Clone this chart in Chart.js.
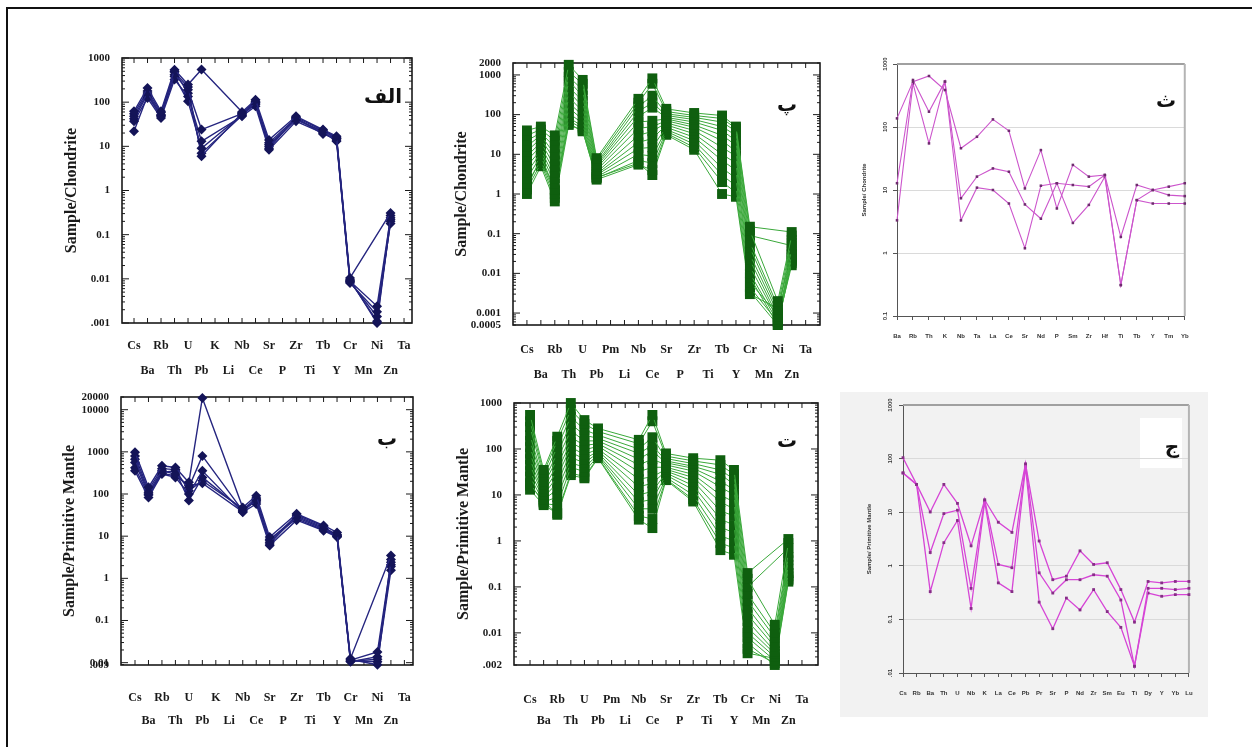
<!DOCTYPE html>
<html><head><meta charset="utf-8">
<script src="https://cdn.jsdelivr.net/npm/chart.js@4.4.1/dist/chart.umd.min.js"></script>
<style>
html,body{margin:0;padding:0;background:#fff;width:1252px;height:747px;overflow:hidden;position:relative;}
.outer{position:absolute;left:6px;top:7px;width:1400px;height:900px;border-left:2px solid #111;border-top:2px solid #111;}
.panelbg{position:absolute;background:#f2f2f2;}
canvas{position:absolute;}
.lbl{position:absolute;font-family:'DejaVu Sans',sans-serif;font-weight:bold;font-size:20px;color:#111;transform:translate(-50%,-50%);direction:rtl;white-space:nowrap;line-height:1;}
.wbox{position:absolute;background:#fff;}
</style></head><body>
<div class="outer"></div>
<div class="panelbg" style="left:840px;top:392px;width:368px;height:325px;"></div>
<div class="wbox" style="left:1140px;top:418px;width:42px;height:50px;"></div>
<script>
// ---------- categories ----------
const elemChondrite = ['Cs','Ba','Rb','Th','U','Pb','K','Li','Nb','Ce','Sr','P','Zr','Ti','Tb','Y','Cr','Mn','Ni','Zn','Ta'];
const elemPm = ['Cs','Ba','Rb','Th','U','Pb','Pm','Li','Nb','Ce','Sr','P','Zr','Ti','Tb','Y','Cr','Mn','Ni','Zn','Ta'];
const elemThompson = ['Ba','Rb','Th','K','Nb','Ta','La','Ce','Sr','Nd','P','Sm','Zr','Hf','Ti','Tb','Y','Tm','Yb'];
const elemSunMcD = ['Cs','Rb','Ba','Th','U','Nb','K','La','Ce','Pb','Pr','Sr','P','Nd','Zr','Sm','Eu','Ti','Dy','Y','Yb','Lu'];

// ---------- tick values / labels ----------
const alefTicks = [0.001,0.01,0.1,1,10,100,1000];
const alefTickLabels = ['.001','0.01','0.1','1','10','100','1000'];
const beTicks = [0.0088,0.01,0.1,1,10,100,1000,10000,20000];
const beTickLabels = ['.009','0.01','0.1','1','10','100','1000','10000','20000'];
const peTicks = [0.0005,0.001,0.01,0.1,1,10,100,1000,2000];
const peTickLabels = ['0.0005','0.001','0.01','0.1','1','10','100','1000','2000'];
const teTicks = [0.002,0.01,0.1,1,10,100,1000];
const teTickLabels = ['.002','0.01','0.1','1','10','100','1000'];
const seTicks = [0.1,1,10,100,1000];
const seTickLabels = ['0.1','1','10','100','1000'];
const jimTicks = [0.01,0.1,1,10,100,1000];
const jimTickLabels = ['.01','0.1','1','10','100','1000'];

// ---------- panel الف (Sample/Chondrite, blue) ----------
const alef1 = [62,210,62,545,250,550,null,null,60,114,14,null,48,null,24,17,0.0105,null,null,0.31,null];
const alef2 = [48,162,52,420,192,24,null,null,55,96,11,null,40,null,22,15,0.0088,null,0.0024,0.24,null];
const alef3 = [37,124,44,325,135,13,null,null,48,81,8.4,null,37,null,20,14,0.0081,null,0.0018,0.18,null];
const alef4 = [22,140,48,380,105,9,null,null,52,90,10,null,42,null,21,13,0.0085,null,0.0014,0.2,null];
const alef5 = [55,180,58,480,220,6,null,null,57,105,9,null,45,null,23,16,0.009,null,0.0011,0.27,null];
const alef6 = [42,150,50,500,160,7,null,null,50,100,12,null,44,null,19,15,0.0095,null,0.001,0.22,null];

// ---------- panel ب (Sample/Primitive Mantle, blue) ----------
const be1 = [985,144,467,427,189,19000,null,null,48,91,9.5,null,34,null,18,12.3,0.0126,null,null,3.5,null];
const be2 = [670,110,355,297,144,800,null,null,40,70,7.2,null,28,null,15,10.4,0.0115,null,0.018,2.4,null];
const be3 = [355,83,297,248,100,355,null,null,37,58,6.0,null,24,null,13.5,9.5,0.0105,null,0.0138,1.9,null];
const be4 = [420,95,330,350,70,248,null,null,42,80,8,null,30,null,16,11,0.011,null,0.0105,1.55,null];
const be5 = [800,125,400,380,120,206,null,null,45,65,8.5,null,26,null,14,10,0.012,null,0.0089,2.8,null];
const be6 = [560,100,310,270,160,180,null,null,38,75,6.5,null,32,null,17,9.8,0.0108,null,0.012,2.1,null];

// ---------- panel پ (Sample/Chondrite, green) ----------
const pe1 = [40,50,30,1800,750,8,null,null,250,820,140,null,110,null,95,50,0.15,null,null,0.11,null];
const pe2 = [30,42,22,1200,600,7,null,null,200,600,120,null,95,null,80,45,0.12,null,0.002,0.09,null];
const pe3 = [22,35,15,900,420,6,null,null,160,300,105,null,85,null,65,38,0.09,null,null,0.05,null];
const pe4 = [16,30,10,700,300,5.5,null,null,120,200,95,null,75,null,50,30,0.06,null,0.0015,0.07,null];
const pe5 = [12,25,7,500,220,5,null,null,90,150,85,null,65,null,40,22,0.045,null,0.0012,0.04,null];
const pe6 = [9,20,5,380,160,4.5,null,null,65,70,78,null,55,null,30,17,0.03,null,0.001,0.06,null];
const pe7 = [7,16,3.5,280,120,4,null,null,45,50,70,null,48,null,22,12,0.022,null,0.0008,0.03,null];
const pe8 = [5,13,2.5,200,95,3.5,null,null,30,38,62,null,40,null,15,9,0.015,null,0.0007,0.025,null];
const pe9 = [3.5,11,1.8,150,75,3.2,null,null,20,25,55,null,33,null,10,6,0.01,null,0.0006,0.035,null];
const pe10 = [2.5,9,1.3,110,60,3,null,null,14,15,48,null,27,null,7,4,0.008,null,0.0005,0.02,null];
const pe11 = [1.8,7,1,85,50,2.7,null,null,10,9,42,null,22,null,4.5,2.5,0.006,null,0.0009,0.018,null];
const pe12 = [1.3,6,0.8,70,45,2.5,null,null,7,6,38,null,18,null,3,1.6,0.0045,null,0.0006,0.016,null];
const pe13 = [1,5,0.65,55,40,2.3,null,null,5.5,4,34,null,15,null,2,1.1,0.0035,null,0.0005,0.022,null];
const pe14 = [1.5,8,1.2,60,38,2.6,null,null,6,3,31,null,13,null,1,0.85,0.003,null,0.0013,0.03,null];

// ---------- panel ت (Sample/Primitive Mantle, green) ----------
const te1 = [550,35,185,1000,425,280,null,null,158,550,80,null,63,null,57,35,0.2,null,null,1.1,null];
const te2 = [400,30,150,700,350,240,null,null,130,400,70,null,55,null,45,28,0.15,null,0.015,0.9,null];
const te3 = [300,25,110,500,260,200,null,null,100,180,62,null,48,null,35,22,0.1,null,null,0.7,null];
const te4 = [200,20,80,350,200,170,null,null,80,120,55,null,42,null,28,17,0.07,null,0.01,0.55,null];
const te5 = [150,17,60,250,150,150,null,null,60,90,50,null,38,null,20,13,0.05,null,0.008,0.45,null];
const te6 = [110,14,45,180,120,130,null,null,45,60,45,null,33,null,15,10,0.035,null,0.006,0.38,null];
const te7 = [80,12,33,140,95,115,null,null,32,40,40,null,28,null,10,7,0.025,null,0.005,0.3,null];
const te8 = [60,10,25,110,75,100,null,null,22,25,36,null,24,null,7,5,0.018,null,0.004,0.25,null];
const te9 = [45,9,18,85,60,90,null,null,15,18,33,null,20,null,4.5,3.5,0.013,null,0.0035,0.2,null];
const te10 = [33,8,13,65,50,82,null,null,10,12,30,null,16,null,3,2.2,0.01,null,0.003,0.17,null];
const te11 = [25,7,9,50,40,75,null,null,7,8,27,null,13,null,2,1.5,0.008,null,0.0025,0.15,null];
const te12 = [18,6.5,6,40,32,70,null,null,5,5,24,null,10,null,1.3,1,0.006,null,0.002,0.13,null];
const te13 = [13,6,4,30,25,65,null,null,3.5,3,22,null,8,null,0.9,0.7,0.0045,null,0.0022,0.14,null];
const te14 = [16,7.5,3.7,27,23,63,null,null,2.9,1.9,21,null,7.2,null,0.63,0.5,0.0036,null,0.0028,0.2,null];

// ---------- panel ث (Thompson chondrite, pink) ----------
const se1 = [137,525,645,386,46,70,132,87,10.6,43,5.1,25,16.3,17.3,1.8,12,10,11.3,12.8];
const se2 = [12.8,557,175,525,7.4,16.3,22,19.5,5.9,3.5,12.8,12,11.3,17.3,0.31,6.9,10,8.3,8.0];
const se3 = [3.3,493,55,525,3.3,10.9,10,6.1,1.19,11.7,12.8,3.0,5.8,16.3,0.31,6.9,6.1,6.1,6.1];

// ---------- panel ج (primitive mantle, pink) ----------
const jim1 = [104,33,10.1,33,14.6,2.36,16.9,6.5,4.2,80,2.9,0.55,0.64,1.9,1.06,1.14,0.36,0.089,0.51,0.48,0.51,0.51];
const jim2 = [54,33,1.77,9.4,10.9,0.38,16.9,1.06,0.92,78,0.74,0.31,0.55,0.55,0.68,0.64,0.23,0.0134,0.38,0.38,0.36,0.38];
const jim3 = [54,33,0.33,2.7,7.0,0.16,15.7,0.48,0.33,69,0.21,0.067,0.25,0.15,0.36,0.14,0.071,0.0134,0.31,0.27,0.29,0.29];

// ---------- plugins ----------
const framePlugin = {
  id: 'frame',
  beforeDatasetsDraw(chart, args, o) {
    if (!o || !o.on) return;
    const ctx = chart.ctx, a = chart.chartArea, xs = chart.scales.x, ys = chart.scales.y;
    ctx.save();
    ctx.strokeStyle = o.color; ctx.lineWidth = o.width;
    ctx.strokeRect(a.left, a.top, a.right - a.left, a.bottom - a.top);
    ctx.lineWidth = 1;
    ctx.beginPath();
    xs.ticks.forEach(t => {
      const px = xs.getPixelForValue(t.value);
      ctx.moveTo(px, a.top); ctx.lineTo(px, a.top + 5);
      ctx.moveTo(px, a.bottom); ctx.lineTo(px, a.bottom - 5);
    });
    const lo = Math.floor(Math.log10(ys.min)), hi = Math.ceil(Math.log10(ys.max));
    for (let e = lo; e <= hi; e++) {
      for (let m = 1; m <= 9; m++) {
        const v = m * Math.pow(10, e);
        if (v < ys.min * 0.999 || v > ys.max * 1.001) continue;
        const py = ys.getPixelForValue(v), L = (m === 1) ? 7 : 3;
        ctx.moveTo(a.left, py); ctx.lineTo(a.left + L, py);
        ctx.moveTo(a.right, py); ctx.lineTo(a.right - L, py);
      }
    }
    ctx.stroke();
    ctx.restore();
  }
};
const boxPlugin = {
  id: 'box',
  beforeDatasetsDraw(chart, args, o) {
    if (!o || !o.on) return;
    const ctx = chart.ctx, a = chart.chartArea;
    ctx.save();
    ctx.strokeStyle = o.topColor; ctx.lineWidth = o.topWidth;
    ctx.beginPath(); ctx.moveTo(a.left, a.top); ctx.lineTo(a.right, a.top); ctx.stroke();
    ctx.strokeStyle = o.rightColor; ctx.lineWidth = o.rightWidth;
    ctx.beginPath(); ctx.moveTo(a.right, a.top); ctx.lineTo(a.right, a.bottom); ctx.stroke();
    ctx.restore();
  }
};
const rotYPlugin = {
  id: 'rotY',
  afterDraw(chart, args, o) {
    if (!o || !o.on) return;
    const ctx = chart.ctx, ys = chart.scales.y, a = chart.chartArea;
    ctx.save();
    ctx.font = o.font; ctx.fillStyle = o.color;
    ctx.textAlign = 'center'; ctx.textBaseline = 'middle';
    ys.ticks.forEach((t, i) => {
      const py = ys.getPixelForValue(t.value);
      ctx.save();
      ctx.translate(a.left - o.offset, py);
      ctx.rotate(-Math.PI / 2);
      ctx.fillText(o.labels[i], 0, 0);
      ctx.restore();
    });
    ctx.restore();
  }
};

Chart.defaults.font.family = "'Liberation Serif', 'DejaVu Serif', serif";
Chart.defaults.color = '#111';

function makeCanvas(g) {
  const cv = document.createElement('canvas');
  cv.width = g.W; cv.height = g.H;
  cv.style.left = g.CL + 'px'; cv.style.top = g.CT + 'px';
  cv.style.width = g.W + 'px'; cv.style.height = g.H + 'px';
  document.body.appendChild(cv);
  return cv;
}

function sets(series, s) {
  return series.map(arr => ({
    data: arr.map((v, i) => ({x: i, y: v})),
    borderColor: s.line, borderWidth: s.lw, backgroundColor: s.pt,
    pointBackgroundColor: s.pt, pointBorderColor: s.pt, pointBorderWidth: 0,
    pointStyle: s.style, pointRadius: s.r, spanGaps: true, tension: 0, clip: false, fill: false
  }));
}

// Classic boxed spidergram (الف, ب, پ, ت)
function boxedChart(g, names, series, style, ticks, tickLabels, title) {
  const cv = makeCanvas(g);
  new Chart(cv, {
    type: 'line',
    data: { datasets: sets(series, style) },
    plugins: [framePlugin],
    options: {
      responsive: false, animation: false, events: [],
      layout: { padding: { left: g.pl, top: g.pt, right: g.pr, bottom: 0 } },
      plugins: { legend: { display: false }, tooltip: { enabled: false },
        frame: { on: true, color: '#1a1a1a', width: 1.6 } },
      scales: {
        x: {
          type: 'linear', min: g.xmin, max: g.xmax,
          afterBuildTicks: s => { s.ticks = names.map((n, i) => ({ value: i })); },
          afterFit: s => { s.height = g.xh; },
          grid: { display: false }, border: { display: false },
          ticks: {
            autoSkip: false, maxRotation: 0, minRotation: 0, padding: g.tl, color: '#1a1a1a',
            font: { size: 12, weight: 'bold', lineHeight: g.lh + 'px' },
            callback: v => { const i = Math.round(v); const n = names[i]; return i % 2 === 0 ? [n, ''] : ['', n]; }
          }
        },
        y: {
          type: 'logarithmic', min: ticks[0], max: ticks[ticks.length - 1],
          afterBuildTicks: s => { s.ticks = ticks.map(v => ({ value: v })); },
          afterFit: s => { s.width = g.yw; },
          grid: { display: false }, border: { display: false },
          ticks: { autoSkip: false, padding: 4, color: '#1a1a1a', font: { size: 11, weight: 'bold' },
            callback: v => tickLabels[ticks.indexOf(v)] },
          title: { display: true, text: title, color: '#1a1a1a', padding: 0,
            font: { size: 16, weight: 'bold', lineHeight: 1.2 } }
        }
      }
    }
  });
}

// Excel-like spidergram (ث, ج)
function excelChart(g, names, series, style, ticks, tickLabels, title) {
  const cv = makeCanvas(g);
  new Chart(cv, {
    type: 'line',
    data: { datasets: sets(series, style) },
    plugins: [boxPlugin, rotYPlugin],
    options: {
      responsive: false, animation: false, events: [],
      layout: { padding: { left: g.pl, top: g.pt, right: g.pr, bottom: 0 } },
      plugins: { legend: { display: false }, tooltip: { enabled: false },
        box: { on: true, topColor: '#a0a0a0', topWidth: 2.2, rightColor: '#b4b4b4', rightWidth: 2 },
        rotY: { on: true, labels: tickLabels, offset: g.yoff, color: '#333',
          font: "bold 6px 'Liberation Sans', Arial, sans-serif" } },
      scales: {
        x: {
          type: 'linear', min: 0, max: names.length - 1,
          afterBuildTicks: s => { s.ticks = names.map((n, i) => ({ value: i })); },
          afterFit: s => { s.height = g.xh; },
          grid: { display: true, drawOnChartArea: false, drawTicks: true, tickLength: 4, tickColor: '#555' },
          border: { display: true, color: '#555', width: 1 },
          ticks: { autoSkip: false, maxRotation: 0, minRotation: 0, padding: g.tl, color: '#333',
            font: { family: "'Liberation Sans', Arial, sans-serif", size: 6, weight: 'bold', lineHeight: 1.2 },
            callback: v => names[Math.round(v)] }
        },
        y: {
          type: 'logarithmic', min: ticks[0], max: ticks[ticks.length - 1],
          afterBuildTicks: s => { s.ticks = ticks.map(v => ({ value: v })); },
          afterFit: s => { s.width = g.yw; },
          grid: { display: true, color: '#dadada', lineWidth: 1, drawTicks: true, tickLength: 4, tickColor: '#555' },
          border: { display: true, color: '#555', width: 1 },
          ticks: { display: false },
          title: { display: true, text: title, color: '#333', padding: 0,
            font: { family: "'Liberation Sans', Arial, sans-serif", size: 6, weight: 'bold', lineHeight: 1.2 } }
        }
      }
    }
  });
}

const navy = { line: '#25257f', lw: 1.4, pt: '#141458', style: 'rectRot', r: 5 };
const green = { line: '#3aa83a', lw: 1, pt: '#0f5f0f', style: 'rect', r: 7 };
const pinkS = { line: '#cc55cc', lw: 1.1, pt: '#6e2c6e', style: 'rect', r: 1.8 };
const pinkJ = { line: '#d645d6', lw: 1.3, pt: '#862e86', style: 'rect', r: 2 };

// geometry
const gAlef = { CL: 56, CT: 40, W: 370, H: 340, pl: 6, pt: 18, pr: 14, yw: 60, xh: 57, tl: 2.5, lh: 25, xmin: -0.89, xmax: 20.59 };
const gBe   = { CL: 54, CT: 385, W: 372, H: 345, pl: 6, pt: 12, pr: 13, yw: 61, xh: 65, tl: 13.5, lh: 23, xmin: -1.04, xmax: 20.64 };
const gPe   = { CL: 446, CT: 45, W: 388, H: 340, pl: 6, pt: 18, pr: 14, yw: 61, xh: 60, tl: 4.5, lh: 25, xmin: -1.0, xmax: 21.03 };
const gTe   = { CL: 448, CT: 390, W: 384, H: 340, pl: 6, pt: 13, pr: 14, yw: 60, xh: 65, tl: 16.5, lh: 21, xmin: -1.18, xmax: 21.18 };
const gSe   = { CL: 856, CT: 50, W: 345, H: 300, pl: 5, pt: 14, pr: 14, yw: 36, xh: 34, tl: 12.4, yoff: 12 };
const gJim  = { CL: 860, CT: 392, W: 345, H: 318, pl: 6, pt: 13, pr: 7, yw: 37, xh: 37, tl: 12.4, yoff: 13 };

boxedChart(gAlef, elemChondrite, [alef1, alef2, alef3, alef4, alef5, alef6], navy, alefTicks, alefTickLabels, 'Sample/Chondrite');
boxedChart(gBe, elemChondrite, [be1, be2, be3, be4, be5, be6], navy, beTicks, beTickLabels, 'Sample/Primitive Mantle');
boxedChart(gPe, elemPm, [pe1, pe2, pe3, pe4, pe5, pe6, pe7, pe8, pe9, pe10, pe11, pe12, pe13, pe14], green, peTicks, peTickLabels, 'Sample/Chondrite');
boxedChart(gTe, elemPm, [te1, te2, te3, te4, te5, te6, te7, te8, te9, te10, te11, te12, te13, te14], green, teTicks, teTickLabels, 'Sample/Primitive Mantle');
excelChart(gSe, elemThompson, [se1, se2, se3], pinkS, seTicks, seTickLabels, 'Sample/ Chondrite');
excelChart(gJim, elemSunMcD, [jim1, jim2, jim3], pinkJ, jimTicks, jimTickLabels, 'Sample/ Primitive Mantle');
</script>
<div class="lbl" style="left:383px;top:96px;">الف</div>
<div class="lbl" style="left:787px;top:104px;">پ</div>
<div class="lbl" style="left:1166px;top:100px;">ث</div>
<div class="lbl" style="left:387px;top:438px;">ب</div>
<div class="lbl" style="left:787px;top:440px;">ت</div>
<div class="lbl" style="left:1172px;top:446px;">ج</div>
</body></html>
